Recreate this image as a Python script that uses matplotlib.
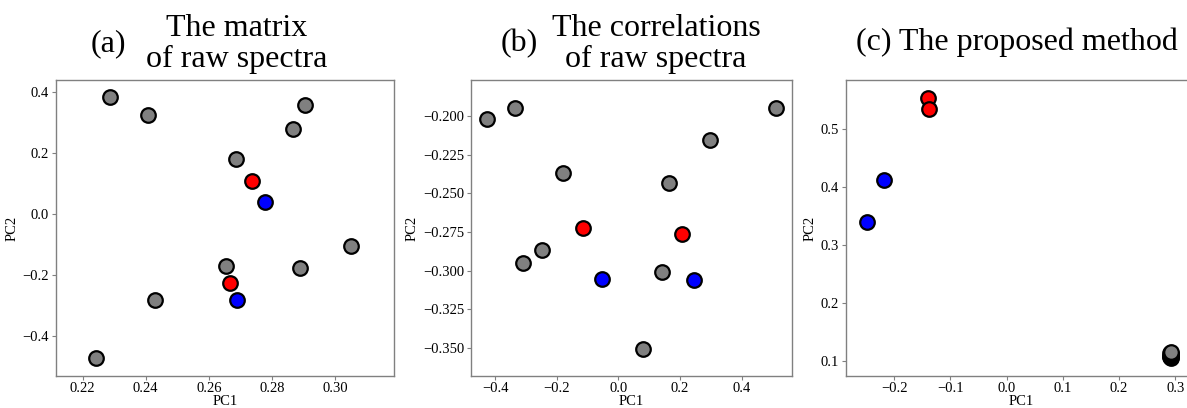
import numpy as np
import matplotlib.pyplot as plt

plt.rcParams['font.family'] = 'Liberation Serif'

# (a) matrix of raw spectra
a_gray_x = [0.2287, 0.2408, 0.2903, 0.2867, 0.2687, 0.3049, 0.2655, 0.2887, 0.2428, 0.2244]
a_gray_y = [0.384, 0.323, 0.357, 0.280, 0.181, -0.105, -0.169, -0.178, -0.280, -0.471]
a_red_x = [0.2737, 0.2668]
a_red_y = [0.109, -0.224]
a_blue_x = [0.2779, 0.2689]
a_blue_y = [0.041, -0.280]

# (b) correlations of raw spectra
b_gray_x = [-0.427, -0.337, 0.511, 0.296, -0.179, 0.165, -0.247, -0.310, 0.141, 0.079]
b_gray_y = [-0.2017, -0.1948, -0.1948, -0.2157, -0.237, -0.243, -0.287, -0.2952, -0.301, -0.351]
b_red_x = [-0.114, 0.208]
b_red_y = [-0.2727, -0.2763]
b_blue_x = [-0.054, 0.247]
b_blue_y = [-0.3053, -0.3064]

# (c) proposed method
c_gray_x = [0.292, 0.291, 0.293, 0.292, 0.291, 0.292, 0.293, 0.292, 0.291, 0.292]
c_gray_y = [0.106, 0.107, 0.108, 0.109, 0.110, 0.111, 0.112, 0.113, 0.114, 0.116]
c_red_x = [-0.1405, -0.1375]
c_red_y = [0.5536, 0.5354]
c_blue_x = [-0.2179, -0.249]
c_blue_y = [0.412, 0.340]

W, H = 1187, 408
fig = plt.figure(figsize=(W / 100, H / 100), dpi=100)

TOP, BOT = 80, 376


def px(x0, x1):
    return [x0 / W, 1 - BOT / H, (x1 - x0) / W, (BOT - TOP) / H]


panels = [
    (px(56, 394), (a_gray_x, a_gray_y, a_red_x, a_red_y, a_blue_x, a_blue_y),
     (0.2116, 0.3186), (-0.53, 0.439), [0.22, 0.24, 0.26, 0.28, 0.30], [-0.4, -0.2, 0.0, 0.2, 0.4], '%.2f', '%.1f'),
    (px(471, 792), (b_gray_x, b_gray_y, b_red_x, b_red_y, b_blue_x, b_blue_y),
     (-0.479, 0.564), (-0.3683, -0.1766), [-0.4, -0.2, 0.0, 0.2, 0.4],
     [-0.350, -0.325, -0.300, -0.275, -0.250, -0.225, -0.200], '%.1f', '%.3f'),
    (px(846, 1196), (c_gray_x, c_gray_y, c_red_x, c_red_y, c_blue_x, c_blue_y),
     (-0.286, 0.337), (0.0749, 0.585), [-0.2, -0.1, 0.0, 0.1, 0.2, 0.3], [0.1, 0.2, 0.3, 0.4, 0.5], '%.1f', '%.1f'),
]

for rect, d, xl, yl, xt, yt, xf, yf in panels:
    ax = fig.add_axes(rect)
    gx, gy, rx, ry, bx, by = d
    kw = dict(s=110, edgecolors='black', linewidths=1.6, zorder=3)
    ax.scatter(gx, gy, c='gray', **kw)
    ax.scatter(rx, ry, c='red', **kw)
    ax.scatter(bx, by, c='blue', **kw)
    ax.set_xlim(xl)
    ax.set_ylim(yl)
    ax.set_xticks(xt)
    ax.set_yticks(yt)
    ax.set_xticklabels([(xf % v).replace('-', '\u2212') for v in xt])
    ax.set_yticklabels([(yf % v).replace('-', '\u2212') for v in yt])
    ax.tick_params(labelsize=10.5, length=3, width=0.8, color='#808080')
    ax.tick_params(axis='x', pad=1.5)
    ax.tick_params(axis='y', pad=2)
    for s in ax.spines.values():
        s.set_color('#808080')
        s.set_linewidth(1.0)
    ax.set_xlabel('PC1', fontsize=10.5)
    ax.xaxis.set_label_coords(0.5, -(408 - BOT) / (BOT - TOP))
    ax.xaxis.label.set_va('bottom')
    ax.set_ylabel('PC2', fontsize=10.5, labelpad=3)

fs = 23
fig.text(108 / W, 1 - 44 / H, '(a)', fontsize=fs, ha='center', va='center')
fig.text(237 / W, 1 - 44 / H, 'The matrix\nof raw spectra', fontsize=fs, ha='center', va='center',
         linespacing=1.12)
fig.text(519 / W, 1 - 44 / H, '(b)', fontsize=fs, ha='center', va='center')
fig.text(656 / W, 1 - 44 / H, 'The correlations\nof raw spectra', fontsize=fs, ha='center', va='center',
         linespacing=1.12)
fig.text(1017 / W, 1 - 42 / H, '(c) The proposed method', fontsize=fs, ha='center', va='center')

fig.savefig('out.png', dpi=100)
